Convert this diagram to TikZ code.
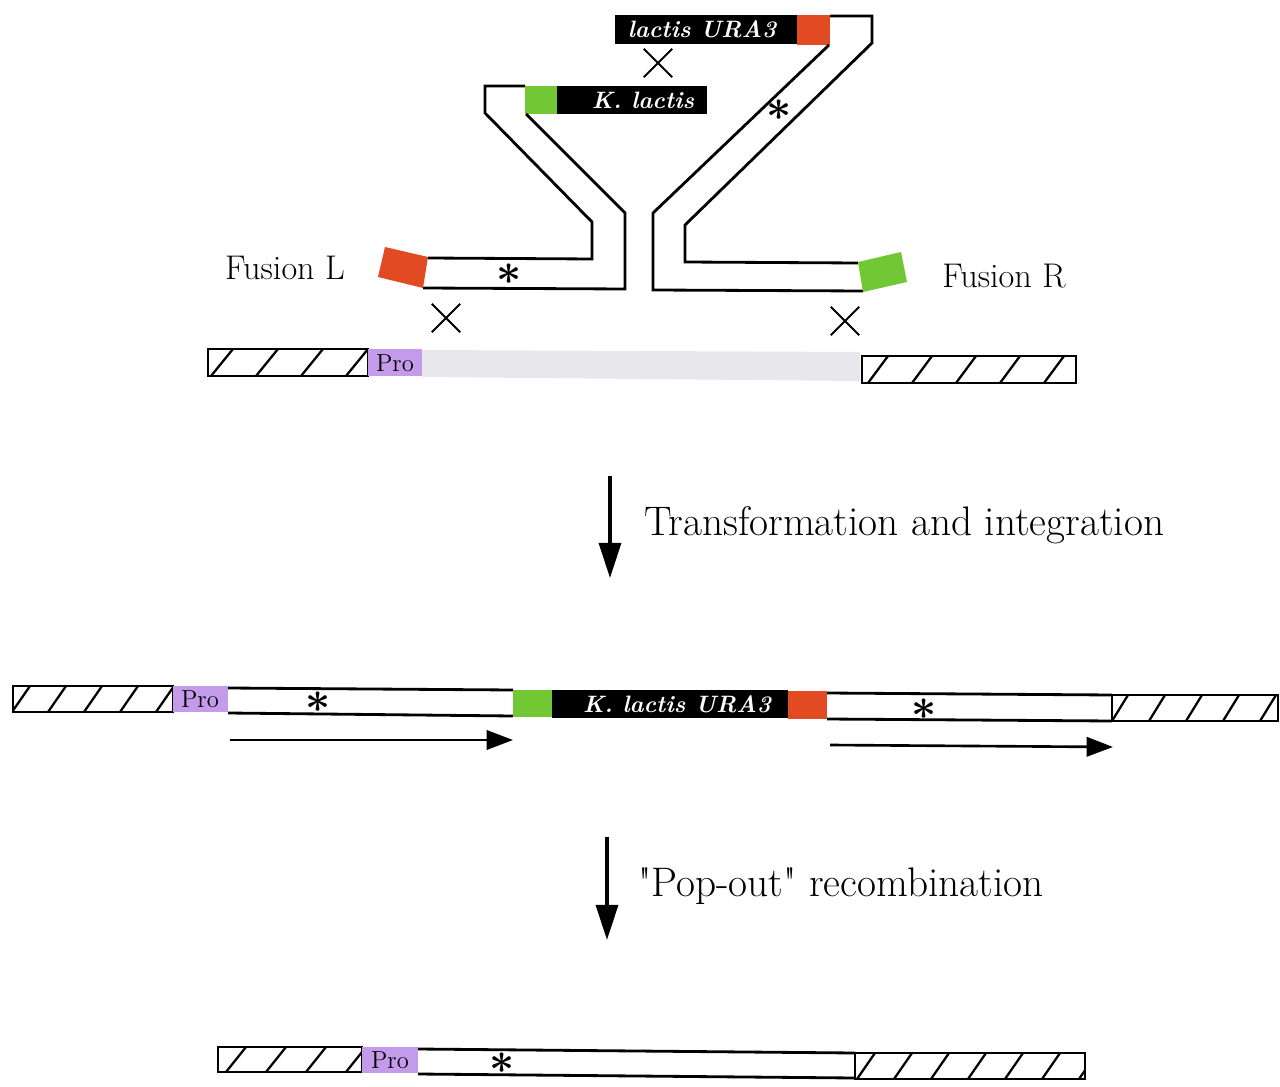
\documentclass[tikz,border=0pt]{standalone}
\usepackage{tikz}
\usetikzlibrary{arrows.meta,shapes.misc}

\definecolor{fusred}{RGB}{226,74,34}
\definecolor{fusgreen}{RGB}{114,200,52}
\definecolor{propurple}{RGB}{196,154,234}
\definecolor{lightgap}{RGB}{232,231,236}

\tikzset{
  strand/.style={line width=1.6pt},
  hatch/.style={line width=1.3pt},
  crossmark/.style={cross out,draw,line width=1.1pt,minimum width=15pt,minimum height=15pt,inner sep=0pt},
  prolabel/.style={font=\fontsize{14}{16}\selectfont},
  genelabel/.style={text=white,font=\fontsize{13.5}{15}\selectfont\bfseries\itshape},
  fusionlabel/.style={font=\fontsize{19.5}{22}\selectfont},
  steplabel/.style={anchor=west,font=\fontsize{23.5}{28}\selectfont},
  mutation/.style={font=\fontsize{24}{24}\selectfont\boldmath,inner sep=0pt},
  stepdown/.style={line width=2pt,-{Triangle[length=20pt,width=12.5pt]}},
  readthrough/.style={line width=1.5pt,-{Triangle[length=15pt,width=11pt]}}
}

% hatched chromosome piece: left, top, right, bottom, first stroke, second stroke, slant
\newcommand{\hatchbar}[7]{%
  \begin{scope}
    \clip (#1,#2) rectangle (#3,#4);
    \foreach \hx in {#5,#6,...,#3} \draw[hatch] (\hx,#4) -- (\hx+#7,#2);
  \end{scope}
  \draw[strand] (#1,#2) rectangle (#3,#4);}

\begin{document}
\begin{tikzpicture}[x=0.02cm,y=-0.02cm]
    \useasboundingbox (0,0) rectangle (1280,1087);

    % fusion R with URA3 end
    \fill (615,15) rectangle (797,44);
    \fill[fusred] (797,15) rectangle (830,45);
    \node[genelabel] (uraTop) at (702,29) {lactis URA3};
    \draw[strand] (830,16) -- (872,16) -- (872,43) -- (685,225) -- (685,262) -- (858,263);
    \draw[strand] (829,45) -- (653,213) -- (653,290) -- (863,291);
    \fill[fusgreen] (858,262) -- (901,252) -- (907,282) -- (863,292) -- cycle;
    \node[fusionlabel] (fusR) at (1004,276) {Fusion R};

    % fusion L with K. lactis end
    \fill[fusgreen] (525,86) rectangle (557,114);
    \fill (557,86) rectangle (707,114);
    \node[genelabel] (lacTop) at (643,100) {K. lactis};
    \draw[strand] (525,86) -- (485,86) -- (485,113) -- (592,222) -- (592,259) -- (428,258);
    \draw[strand] (526,114) -- (625,213) -- (625,289) -- (423,288);
    \fill[fusred] (385,247) -- (428,257) -- (423,288) -- (378,277) -- cycle;
    \node[fusionlabel] (fusL) at (285,268) {Fusion L};

    \node[mutation] (mutL) at (509,274) {$\ast$};
    \node[mutation] (mutR) at (779,110) {$\ast$};
    \node[crossmark] (xMid) at (658,63) {};
    \node[crossmark] (xL) at (446,318) {};
    \node[crossmark] (xR) at (845,321) {};

    % chromosome before
    \hatchbar{208}{349}{368}{376}{211}{256}{22}
    \fill[propurple] (368,349) rectangle (422,376);
    \node[prolabel] (proTop) at (395,363) {Pro};
    \fill[lightgap] (422,350) -- (860,352) -- (860,381) -- (422,377) -- cycle;
    \hatchbar{862}{356}{1076}{383}{868}{912}{20}

    % step 1
    \coordinate (tA) at (610,476);
    \coordinate (tB) at (610,578);
    \draw[stepdown] (tA) -- (tB);
    \node[steplabel] (tText) at (638,525) {Transformation and integration};

    % integrated
    \hatchbar{13}{686}{173}{712}{12}{48}{18}
    \fill[propurple] (173,686) rectangle (228,712);
    \node[prolabel] (proMid) at (200,699) {Pro};
    \draw[strand] (228,688) -- (513,690);
    \draw[strand] (228,713) -- (513,716);
    \fill[fusgreen] (513,690) rectangle (552,717);
    \fill (552,690) rectangle (788,718);
    \node[genelabel] (uraMid) at (677,704) {K. lactis URA3};
    \fill[fusred] (788,691) rectangle (827,719);
    \draw[strand] (827,693) -- (1112,695);
    \draw[strand] (827,719) -- (1112,721);
    \hatchbar{1112}{695}{1278}{721}{1112}{1149}{16}
    \node[mutation] (mutA) at (318,702) {$\ast$};
    \node[mutation] (mutB) at (924,709) {$\ast$};

    \coordinate (rA) at (230,740);
    \coordinate (rB) at (513,740);
    \coordinate (rC) at (830,745);
    \coordinate (rD) at (1113,747);
    \draw[readthrough] (rA) -- (rB);
    \draw[readthrough] (rC) -- (rD);

    % step 2
    \coordinate (pA) at (607,837);
    \coordinate (pB) at (607,940);
    \draw[stepdown] (pA) -- (pB);
    \node[steplabel] (pText) at (632,886) {\textquotedbl Pop-out\textquotedbl{} recombination};

    % after pop-out
    \hatchbar{218}{1047}{362}{1072}{226}{266}{20}
    \fill[propurple] (362,1047) rectangle (418,1073);
    \node[prolabel] (proLow) at (390,1060) {Pro};
    \draw[strand] (418,1049) -- (855,1053);
    \draw[strand] (418,1074) -- (855,1078);
    \hatchbar{855}{1053}{1085}{1079}{857}{894}{18}
    \node[mutation] (mutC) at (502,1063) {$\ast$};
\end{tikzpicture}
\end{document}
